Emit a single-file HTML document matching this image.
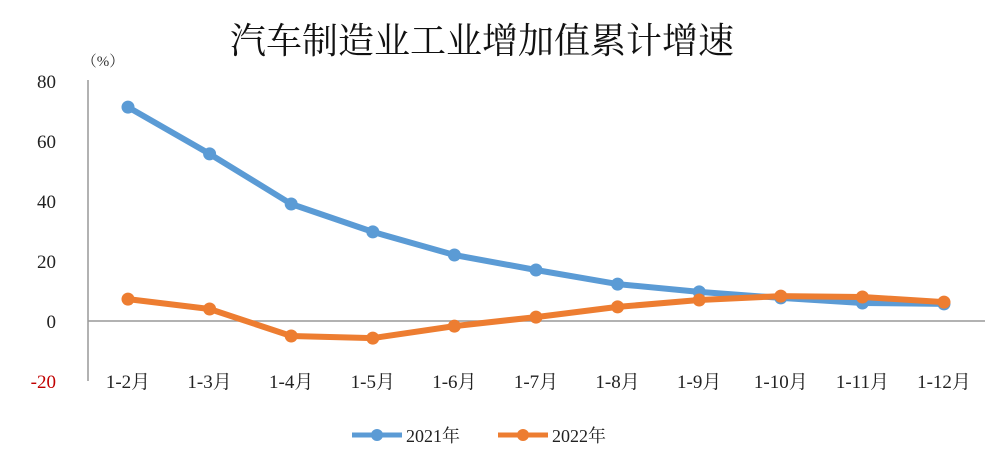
<!DOCTYPE html>
<html><head><meta charset="utf-8"><style>
body{margin:0;background:#fff;width:1000px;height:468px;overflow:hidden}
svg text{font-family:"Liberation Serif","Noto Serif CJK SC",serif}
</style></head><body>
<svg id="chart" width="1000" height="468" xmlns="http://www.w3.org/2000/svg">
<text x="482" y="53" text-anchor="middle" font-size="36" fill="#111">汽车制造业工业增加值累计增速</text>
<text x="103" y="66" text-anchor="middle" font-size="15" fill="#333">（%）</text>
<g id="axes"></g>
<g id="series"></g>
<g>
<g><line x1="352" y1="435" x2="402" y2="435" stroke="#5B9BD5" stroke-width="5"/><circle cx="377" cy="435" r="6" fill="#5B9BD5"/><text x="406" y="442" font-size="18" fill="#222">2021年</text></g>
<g><line x1="498" y1="435" x2="548" y2="435" stroke="#ED7D31" stroke-width="5"/><circle cx="523" cy="435" r="6" fill="#ED7D31"/><text x="552" y="442" font-size="18" fill="#222">2022年</text></g>
</g>
</svg>
<script>
const categories=["1-2月","1-3月","1-4月","1-5月","1-6月","1-7月","1-8月","1-9月","1-10月","1-11月","1-12月"];
const s2021=[71.3,55.7,39,29.7,22,17,12.3,9.7,7.7,6,5.7];
const s2022=[7.3,4,-5,-5.7,-1.7,1.3,4.7,7,8.3,8,6.3];
const yTicks=[80,60,40,20,0,-20];
const NS="http://www.w3.org/2000/svg";
const y=v=>321-(v*3);
const x=i=>128+i*81.6;
function mk(t,a,p){const e=document.createElementNS(NS,t);for(const k in a)e.setAttribute(k,a[k]);p.appendChild(e);return e;}
const ax=document.getElementById('axes');
const ya=mk('line',{x1:88,y1:80,x2:88,y2:381,stroke:'#999','stroke-width':1.5},ax);


const za=mk('line',{x1:88,y1:y(0),x2:985,y2:y(0),stroke:'#999','stroke-width':1.5},ax);


yTicks.forEach(v=>{const t=mk('text',{x:56,y:y(v)+7,'text-anchor':'end','font-size':19,fill:v<0?'#C00000':'#222'},ax);t.textContent=v;

});
categories.forEach((c,i)=>{const t=mk('text',{x:x(i),y:388,'text-anchor':'middle','font-size':19,fill:'#222'},ax);t.textContent=c;

});
const sg=document.getElementById('series');
[[s2021,'#5B9BD5','2021'],[s2022,'#ED7D31','2022']].forEach(([d,col,n])=>{
const p=mk('polyline',{points:d.map((v,i)=>x(i)+','+y(v)).join(' '),fill:'none',stroke:col,'stroke-width':6,'stroke-linejoin':'round'},sg);


d.forEach((v,i)=>{const c=mk('circle',{cx:x(i),cy:y(v),r:6.5,fill:col},sg);

});
});
</script>
</body></html>
